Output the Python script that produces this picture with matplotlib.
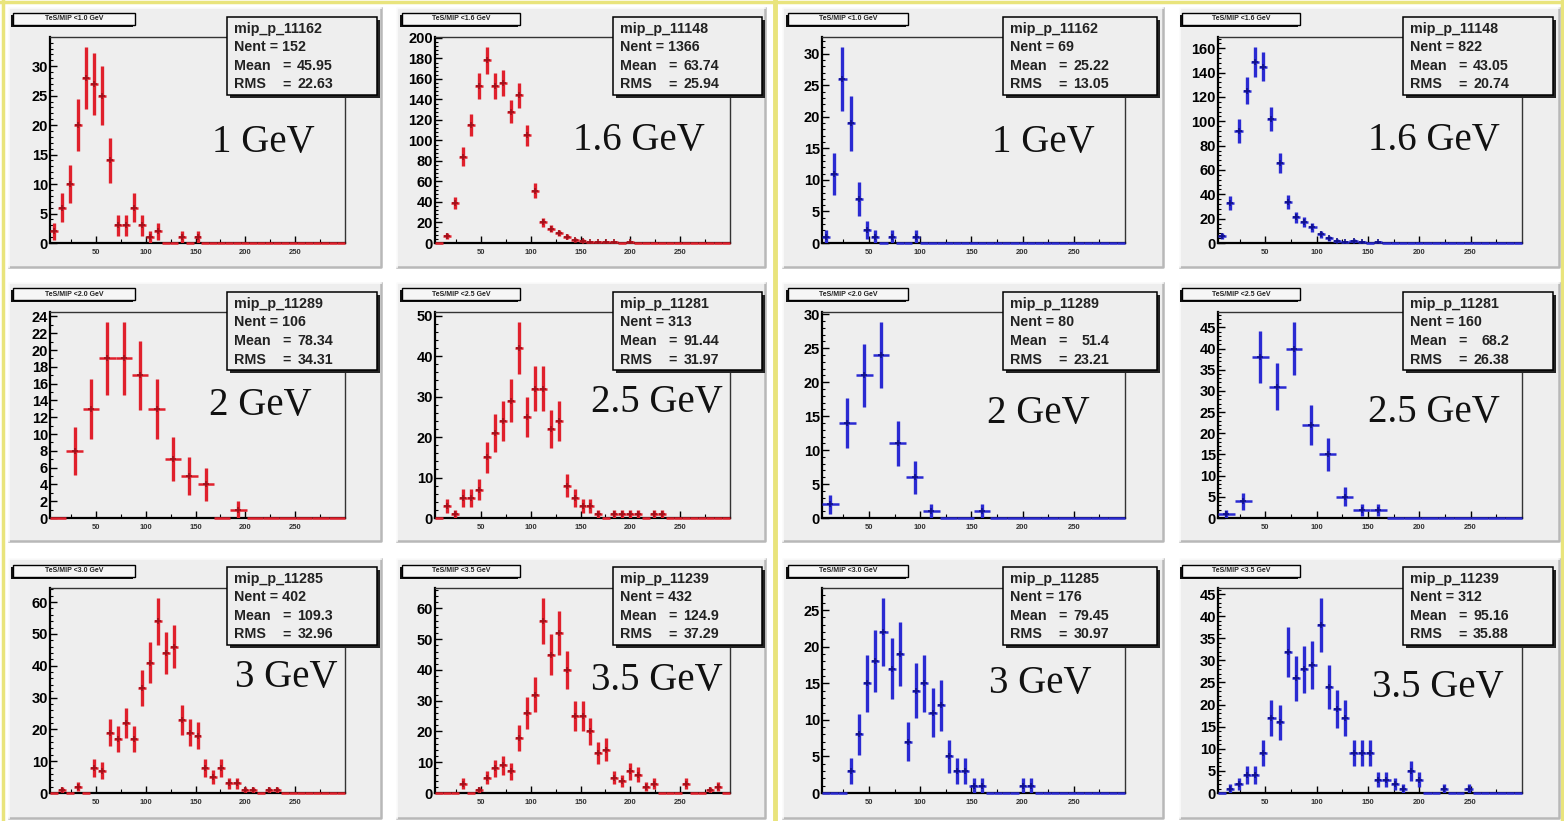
import numpy as np
import matplotlib
matplotlib.use("Agg")
import matplotlib.pyplot as plt
from matplotlib.patches import Rectangle
from matplotlib.ticker import MultipleLocator, AutoMinorLocator

W, H = 1564, 821

# ---- data (ROOT TH1s, range 4..300) ----
x_lo, x_hi = 4, 300
energies = ["1 GeV", "1.6 GeV", "1 GeV", "1.6 GeV",
            "2 GeV", "2.5 GeV", "2 GeV", "2.5 GeV",
            "3 GeV", "3.5 GeV", "3 GeV", "3.5 GeV"]
cuts = ["1.0", "1.6", "1.0", "1.6", "2.0", "2.5", "2.0", "2.5", "3.0", "3.5", "3.0", "3.5"]
run_names = ["mip_p_11162", "mip_p_11148", "mip_p_11162", "mip_p_11148",
             "mip_p_11289", "mip_p_11281", "mip_p_11289", "mip_p_11281",
             "mip_p_11285", "mip_p_11239", "mip_p_11285", "mip_p_11239"]
nent = [152, 1366, 69, 822, 106, 313, 80, 160, 402, 432, 176, 312]
mean = ["45.95", "63.74", "25.22", "43.05", "78.34", "91.44",
        "51.4", "68.2", "109.3", "124.9", "79.45", "95.16"]
rms = ["22.63", "25.94", "13.05", "20.74", "34.31", "31.97",
       "23.21", "26.38", "32.96", "37.29", "30.97", "35.88"]

counts_red_1 = [2, 6, 10, 20, 28, 27, 25, 14, 3, 3, 6, 3, 1, 2, 0, 0, 1, 0, 1,
                0, 0, 0, 0, 0, 0, 0, 0, 0, 0, 0, 0, 0, 0, 0, 0, 0, 0]
counts_red_16 = [0, 7, 39, 84, 115, 153, 178, 153, 156, 128, 144, 105, 51, 20, 14, 10,
                 6, 3, 2, 1, 1, 1, 1, 0, 1, 0, 0, 0, 0, 0, 0, 0, 0, 0, 0, 0, 0]
counts_blue_1 = [1, 11, 26, 19, 7, 2, 1, 0, 1, 0, 0, 1, 0, 0, 0, 0, 0, 0, 0,
                 0, 0, 0, 0, 0, 0, 0, 0, 0, 0, 0, 0, 0, 0, 0, 0, 0, 0]
counts_blue_16 = [6, 33, 92, 125, 149, 145, 102, 66, 34, 21, 17, 13, 7, 4, 2, 1, 2, 1, 0,
                  1, 0, 0, 0, 0, 0, 0, 0, 0, 0, 0, 0, 0, 0, 0, 0, 0, 0]
counts_red_2 = [0, 8, 13, 19, 19, 17, 13, 7, 5, 4, 0, 1, 0, 0, 0, 0, 0, 0]
counts_red_25 = [0, 3, 1, 5, 5, 7, 15, 21, 24, 29, 42, 25, 32, 32, 22, 24, 8, 5, 3,
                 3, 1, 0, 1, 1, 1, 1, 0, 1, 1, 0, 0, 0, 0, 0, 0, 0, 0]
counts_blue_2 = [2, 14, 21, 24, 11, 6, 1, 0, 0, 1, 0, 0, 0, 0, 0, 0, 0, 0]
counts_blue_25 = [1, 4, 38, 31, 40, 22, 15, 5, 2, 2, 0, 0, 0, 0, 0, 0, 0, 0]
counts_red_3 = [0, 1, 0, 2, 0, 8, 7, 19, 17, 22, 17, 33, 41, 54, 44, 46, 23, 19, 18,
                8, 5, 8, 3, 3, 1, 1, 0, 1, 1, 0, 0, 0, 0, 0, 0, 0, 0]
counts_red_35 = [0, 0, 0, 3, 0, 1, 5, 8, 9, 7, 18, 26, 32, 56, 45, 52, 40, 25, 25,
                 20, 13, 14, 5, 4, 7, 6, 2, 3, 0, 0, 0, 3, 0, 0, 1, 2, 0]
counts_blue_3 = [0, 0, 0, 3, 8, 15, 18, 22, 17, 19, 7, 14, 15, 11, 12, 5, 3, 3, 1,
                 1, 0, 0, 0, 0, 1, 1, 0, 0, 0, 0, 0, 0, 0, 0, 0, 0, 0]
counts_blue_35 = [0, 1, 2, 4, 4, 9, 17, 16, 32, 26, 28, 29, 38, 24, 19, 17, 9, 9, 9,
                  3, 3, 2, 1, 5, 3, 0, 0, 1, 0, 0, 1, 0, 0, 0, 0, 0, 0]

counts = [counts_red_1, counts_red_16, counts_blue_1, counts_blue_16,
          counts_red_2, counts_red_25, counts_blue_2, counts_blue_25,
          counts_red_3, counts_red_35, counts_blue_3, counts_blue_35]

# ---- layout (pixels) ----
ystep = [5, 20, 5, 20, 2, 10, 5, 5, 10, 10, 5, 5]
lab_x = [0.898, 0.915, 0.90, 0.928, 0.888, 0.976, 0.884, 0.928, 0.976, 0.976, 0.89, 0.938]
lab_y = [0.44, 0.45, 0.44, 0.45, 0.50, 0.515, 0.46, 0.466, 0.517, 0.502, 0.488, 0.468]

col_pad = [(9, 381), (397, 765), (783, 1163), (1180, 1559)]
row_pad = [(8, 267), (283, 541), (559, 818)]
col_frame = [(50, 345), (435, 730), (822, 1125), (1218, 1522)]
row_frame = [(37, 243), (312, 518), (588, 793)]
col_stat = [(227, 377), (613, 762), (1003, 1157), (1403, 1553)]
row_stat = [(17, 95), (292, 370), (567, 645)]
col_title = [(13, 135), (402, 520), (788, 908), (1182, 1300)]
row_title = [(13, 25), (288, 300), (565, 577)]

RED, RED_DK = "#e0202c", "#a0101a"
BLUE, BLUE_DK = "#2a2ad2", "#10108a"
PAD_BG = "#eeeeee"
YELLOW = "#e9e47c"


def px_rect(x0, x1, y0, y1):
    return [x0 / W, 1 - y1 / H, (x1 - x0) / W, (y1 - y0) / H]


fig = plt.figure(figsize=(W / 100, H / 100), dpi=100, facecolor="white")
bg = fig.add_axes([0, 0, 1, 1], zorder=0)
bg.set_xlim(0, W)
bg.set_ylim(H, 0)
bg.axis("off")
fg = fig.add_axes([0, 0, 1, 1], zorder=5)
fg.set_xlim(0, W)
fg.set_ylim(H, 0)
fg.axis("off")

# yellow canvas borders
bg.plot([0, W], [2, 2], color=YELLOW, lw=2.5)
bg.plot([3, 3], [0, H], color=YELLOW, lw=2.5)
bg.plot([775, 775], [0, H], color=YELLOW, lw=3.5)
bg.plot([W - 2, W - 2], [0, H], color=YELLOW, lw=2.5)

sans = "Liberation Sans"

for i in range(12):
    r, c = divmod(i, 4)
    color, dark = (RED, RED_DK) if c < 2 else (BLUE, BLUE_DK)

    # pad with bevel
    px0, px1 = col_pad[c]
    py0, py1 = row_pad[r]
    bg.add_patch(Rectangle((px0, py0), px1 - px0, py1 - py0, fc=PAD_BG, ec="none"))
    bg.plot([px0, px1, px1], [py1, py1, py0], color="#b8b8b8", lw=1.8)
    bg.plot([px0, px0, px1], [py1, py0, py0], color="#fbfbfb", lw=1.2)

    # histogram frame
    fx0, fx1 = col_frame[c]
    fy0, fy1 = row_frame[r]
    ax = fig.add_axes(px_rect(fx0, fx1, fy0, fy1), zorder=2)
    ax.patch.set_alpha(0)

    y = np.array(counts[i], dtype=float)
    edges = np.linspace(x_lo, x_hi, len(y) + 1)
    centers = 0.5 * (edges[:-1] + edges[1:])
    err = np.sqrt(y)
    ax.hlines(y, edges[:-1], edges[1:], colors=color, lw=1.8, clip_on=False, zorder=3)
    nz = y > 0
    ax.vlines(centers[nz], (y - err)[nz], (y + err)[nz], colors=color, lw=2.4, zorder=3)
    ax.plot(centers[nz], y[nz], "+", color=dark, ms=4, mew=1.2, zorder=4)

    ax.set_xlim(x_lo, x_hi)
    ax.set_ylim(0, 1.05 * np.max(y + err))
    ax.set_xticks([50, 100, 150, 200, 250])
    ax.set_xticks([25, 75, 125, 175, 225, 275], minor=True)
    ax.yaxis.set_major_locator(MultipleLocator(ystep[i]))
    ax.yaxis.set_minor_locator(AutoMinorLocator(2 if ystep[i] == 2 else 5))
    ax.tick_params(axis="both", which="both", direction="in", color="black")
    ax.tick_params(axis="y", which="major", length=5, width=1, pad=1.5,
                   labelsize=10.5)
    ax.tick_params(axis="y", which="minor", length=2.5, width=0.8)
    ax.tick_params(axis="x", which="major", length=5, width=1, pad=4,
                   labelsize=5.5, labelcolor="#333333")
    ax.tick_params(axis="x", which="minor", length=3, width=0.8)
    for lab in ax.get_yticklabels() + ax.get_xticklabels():
        lab.set_fontweight("bold")
        lab.set_family(sans)
    for side in ("left", "bottom"):
        ax.spines[side].set_linewidth(1.6)
    for side in ("top", "right"):
        ax.spines[side].set_linewidth(1.0)
        ax.spines[side].set_color("#333333")

    ax.text(lab_x[i], lab_y[i], energies[i], transform=ax.transAxes,
            ha="right", va="baseline", fontsize=28, family="Liberation Serif",
            color="#111111")

    # stats box
    sx0, sx1 = col_stat[c]
    sy0, sy1 = row_stat[r]
    fg.add_patch(Rectangle((sx0 + 3, sy0 + 3), sx1 - sx0, sy1 - sy0, fc="#222222", ec="none"))
    fg.add_patch(Rectangle((sx0, sy0), sx1 - sx0, sy1 - sy0, fc=PAD_BG, ec="black", lw=1.1))
    tkw = dict(fontsize=10.3, fontweight="bold", family=sans, color="#222222", va="center")
    fg.text(sx0 + 7, sy0 + 12, run_names[i], ha="left", **tkw)
    fg.text(sx0 + 7, sy0 + 30, "Nent = %d" % nent[i], ha="left", **tkw)
    for k, (name, val) in enumerate([("Mean", mean[i]), ("RMS", rms[i])]):
        yy = sy0 + 49 + 18.5 * k
        fg.text(sx0 + 7, yy, name, ha="left", **tkw)
        fg.text(sx0 + 55, yy, "=", ha="left", **tkw)
        fg.text(sx0 + 106, yy, val, ha="right", **tkw)

    # title box
    tx0, tx1 = col_title[c]
    ty0, ty1 = row_title[r]
    fg.add_patch(Rectangle((tx0 - 2, ty0 + 2), tx1 - tx0, ty1 - ty0, fc="#111111", ec="none"))
    fg.add_patch(Rectangle((tx0, ty0), tx1 - tx0, ty1 - ty0, fc="#f6f6f6", ec="black", lw=1.0))
    fg.text(0.5 * (tx0 + tx1), 0.5 * (ty0 + ty1), "TeS/MIP <%s GeV" % cuts[i],
            ha="center", va="center", fontsize=5, fontweight="bold", family=sans,
            color="#222222")

fig.savefig("out.png", dpi=100, facecolor=fig.get_facecolor())
